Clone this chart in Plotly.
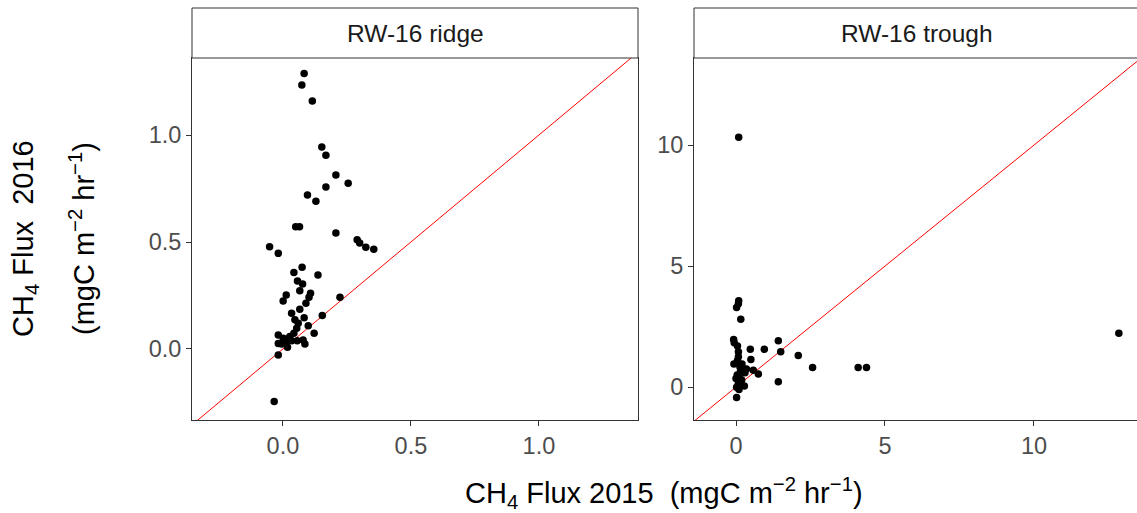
import plotly.graph_objects as go

# RW-16 ridge: CH4 flux 2015 (x) vs 2016 (y)
ridge_2015 = [0.083, 0.074, 0.115, 0.152, 0.168, 0.207, 0.255, 0.168, 0.096, 0.129,
              0.050, 0.065, 0.207, 0.290, 0.300, 0.324, 0.355, -0.052, -0.018, 0.075,
              0.043, 0.137, 0.057, 0.077, 0.066, 0.108, 0.013, 0.001, 0.223, 0.102,
              0.090, 0.066, 0.034, 0.154, 0.083, 0.047, 0.099, 0.054, 0.122, -0.018,
              0.001, 0.027, 0.043, -0.018, 0.014, 0.034, 0.056, 0.079, 0.086, 0.018,
              -0.005, -0.018, -0.034, 0.010, 0.060]
ridge_2016 = [1.288, 1.234, 1.159, 0.944, 0.905, 0.813, 0.774, 0.757, 0.720, 0.690,
              0.571, 0.571, 0.542, 0.510, 0.495, 0.475, 0.466, 0.478, 0.447, 0.382,
              0.357, 0.346, 0.318, 0.304, 0.272, 0.260, 0.252, 0.224, 0.242, 0.242,
              0.214, 0.186, 0.167, 0.156, 0.146, 0.136, 0.109, 0.097, 0.073, 0.065,
              0.050, 0.058, 0.073, 0.026, 0.034, 0.039, 0.039, 0.042, 0.023, 0.008,
              0.023, -0.028, -0.246, 0.045, 0.120]

# RW-16 trough
trough_2015 = [0.09, 0.09, 0.08, 0.02, 0.16, -0.08, -0.06, 1.42, 0.48, 0.95,
               0.08, 1.50, 0.08, 2.09, 0.50, -0.07, 0.13, 2.57, 4.10, 4.38,
               0.58, 0.75, 0.30, 0.04, 0.19, 1.42, 0.08, 0.28, 0.02, 0.10,
               0.02, 12.85, 0.05, 0.15, 0.00, 0.12, 0.35, 0.20, 0.05, 0.10]
trough_2016 = [10.33, 3.57, 3.44, 3.29, 2.80, 1.97, 1.83, 1.91, 1.56, 1.56,
               1.46, 1.46, 1.25, 1.31, 1.14, 0.95, 0.84, 0.81, 0.81, 0.81,
               0.70, 0.54, 0.59, 0.50, 0.29, 0.22, 0.15, 0.05, -0.01, -0.10,
               -0.43, 2.22, 1.10, 0.65, 0.35, 0.40, 0.75, 0.95, 1.70, 0.25]

ridge_xrange = [-0.355, 1.387]
ridge_yrange = [-0.332, 1.36]
trough_xrange = [-1.41, 13.56]
trough_yrange = [-1.36, 13.6]

ridge_ticks = [0.0, 0.5, 1.0]
trough_ticks = [0, 5, 10]
panel_titles = ["RW-16 ridge", "RW-16 trough"]

FONT = "Liberation Sans, Arial, sans-serif"
TICK_SIZE = 23.5
STRIP_SIZE = 24.5
TITLE_SIZE = 29
fig = go.Figure()

# 1:1 lines
fig.add_trace(go.Scatter(x=[-5, 5], y=[-5, 5], mode="lines",
                         line=dict(color="red", width=1), xaxis="x", yaxis="y",
                         hoverinfo="skip", showlegend=False))
fig.add_trace(go.Scatter(x=[-50, 50], y=[-50, 50], mode="lines",
                         line=dict(color="red", width=1), xaxis="x2", yaxis="y2",
                         hoverinfo="skip", showlegend=False))
fig.add_trace(go.Scatter(x=ridge_2015, y=ridge_2016, mode="markers",
                         marker=dict(color="black", size=7.5), xaxis="x", yaxis="y",
                         showlegend=False))
fig.add_trace(go.Scatter(x=trough_2015, y=trough_2016, mode="markers",
                         marker=dict(color="black", size=7.5), xaxis="x2", yaxis="y2",
                         showlegend=False))

PW = 948.0   # plot-area width in px (right panel runs slightly past the window)
PH = 362.0   # plot-area height in px
d1 = [0, 446 / PW]
d2 = [502 / PW, 1]

axis_common = dict(showgrid=False, zeroline=False, showline=True, mirror=True,
                   linecolor="#333333", linewidth=1, ticks="outside", ticklen=5,
                   tickcolor="#333333",
                   tickfont=dict(family=FONT, size=TICK_SIZE, color="#4d4d4d"))

fig.update_layout(
    width=1142, height=513,
    margin=dict(l=192, r=2, t=58, b=93),
    paper_bgcolor="white", plot_bgcolor="white",
    xaxis=dict(domain=d1, range=ridge_xrange, tickvals=ridge_ticks,
               ticktext=[f"{v:.1f}" for v in ridge_ticks], anchor="y", **axis_common),
    yaxis=dict(domain=[0, 1], range=ridge_yrange, tickvals=ridge_ticks,
               ticktext=[f"{v:.1f}" for v in ridge_ticks], anchor="x", **axis_common),
    xaxis2=dict(domain=d2, range=trough_xrange, tickvals=trough_ticks,
                ticktext=[str(v) for v in trough_ticks], anchor="y2", **axis_common),
    yaxis2=dict(domain=[0, 1], range=trough_yrange, tickvals=trough_ticks,
                ticktext=[str(v) for v in trough_ticks], anchor="x2", **axis_common),
)

# strips
for dom, title in zip([d1, d2], panel_titles):
    fig.add_shape(type="rect", xref="paper", yref="paper", x0=dom[0], x1=dom[1],
                  y0=1, y1=1 + 50 / PH, line=dict(color="#333333", width=1),
                  fillcolor="white")
    fig.add_annotation(xref="paper", yref="paper", x=(446 / 2) / PW + dom[0],
                       y=1 + 25 / PH, text=title, showarrow=False,
                       font=dict(family=FONT, size=STRIP_SIZE, color="#1a1a1a"),
                       xanchor="center", yanchor="middle")

# axis titles
fig.add_annotation(xref="paper", yref="paper", x=(664 - 192) / PW, y=-73 / PH,
                   text="CH<sub>4</sub> Flux 2015  (mgC m<sup>−2</sup> hr<sup>−1</sup>)",
                   showarrow=False, font=dict(family=FONT, size=TITLE_SIZE, color="black"),
                   xanchor="center", yanchor="middle")
fig.add_annotation(xref="paper", yref="paper", x=-167 / PW, y=0.5,
                   text="CH<sub>4</sub> Flux  2016", textangle=-90,
                   showarrow=False, font=dict(family=FONT, size=TITLE_SIZE, color="black"),
                   xanchor="center", yanchor="middle")
fig.add_annotation(xref="paper", yref="paper", x=-110 / PW, y=0.5,
                   text="(mgC m<sup>−2</sup> hr<sup>−1</sup>)", textangle=-90,
                   showarrow=False, font=dict(family=FONT, size=TITLE_SIZE, color="black"),
                   xanchor="center", yanchor="middle")

fig.write_html("out.html",
               config={"displayModeBar": False},
               post_script="document.body.style.margin='0';"
                           "document.body.style.overflow='hidden';")
